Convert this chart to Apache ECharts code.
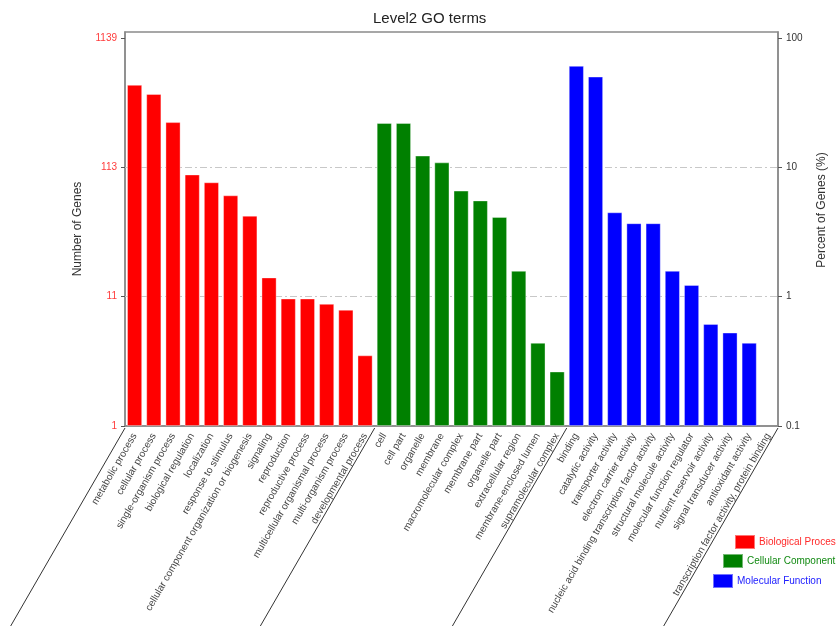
<!DOCTYPE html>
<html>
<head>
<meta charset="utf-8">
<title>Level2 GO terms</title>
<script src="https://cdn.jsdelivr.net/npm/echarts@6/dist/echarts.min.js"></script>
<style>
  html, body { margin: 0; padding: 0; background: #fff; }
  #main { width: 836px; height: 626px; }
</style>
</head>
<body>
<div id="main"></div>
<script>
// GO level 2 annotation, bars = gene counts, axis in percent of all genes
const totalGenes = 1139;

const bpTerms = ['metabolic process', 'cellular process', 'single-organism process', 'biological regulation',
  'localization', 'response to stimulus', 'cellular component organization or biogenesis', 'signaling',
  'reproduction', 'reproductive process', 'multicellular organismal process', 'multi-organism process',
  'developmental process'];
const bpGenes = [493, 419, 254, 100, 87, 69, 48, 16, 11, 11, 10, 9, 4];

const ccTerms = ['cell', 'cell part', 'organelle', 'membrane', 'macromolecular complex', 'membrane part',
  'organelle part', 'extracellular region', 'membrane-enclosed lumen', 'supramolecular complex'];
const ccGenes = [250, 250, 140, 124, 75, 63, 47, 18, 5, 3];

const mfTerms = ['binding', 'catalytic activity', 'transporter activity', 'electron carrier activity',
  'nucleic acid binding transcription factor activity', 'structural molecule activity',
  'molecular function regulator', 'nutrient reservoir activity', 'signal transducer activity',
  'antioxidant activity', 'transcription factor activity, protein binding'];
const mfGenes = [691, 571, 51, 42, 42, 18, 14, 7, 6, 5, 1];

const percentTicks = [0.1, 1, 10, 100];

const categories = bpTerms.concat(ccTerms, mfTerms);

// put one group's values in its own slots, '-' elsewhere
function groupData(offset, genes) {
  const arr = categories.map(() => '-');
  genes.forEach((g, i) => { arr[offset + i] = g / totalGenes * 100; });
  return arr;
}

const groups = [
  { name: 'Biological Process', color: '#ff0000', data: groupData(0, bpGenes) },
  { name: 'Cellular Component', color: '#008000', data: groupData(bpTerms.length, ccGenes) },
  { name: 'Molecular Function', color: '#0000ff', data: groupData(bpTerms.length + ccTerms.length, mfGenes) }
];

const legendPos = [[734, 534, '#ff2a2a'], [722, 553, '#128a12'], [712, 573, '#2020ff']];

const option = {
  animation: false,
  textStyle: { fontFamily: 'Liberation Sans, Arial, sans-serif' },
  title: {
    text: 'Level2 GO terms',
    left: 373,
    top: 11,
    padding: 0,
    textStyle: { fontSize: 15, fontWeight: 'normal', color: '#222' }
  },
  grid: {
    left: 125, right: 57, top: 32, bottom: 200,
    show: true, borderColor: '#8a8a8a', borderWidth: 1.5
  },
  legend: groups.map((g, i) => ({
    data: [g.name],
    left: legendPos[i][0],
    top: legendPos[i][1],
    width: 200,
    padding: 0,
    itemWidth: 20,
    itemHeight: 14,
    icon: 'rect',
    selectedMode: false,
    textStyle: { color: legendPos[i][2], fontSize: 10, padding: [0, 0, 0, -1] }
  })),
  xAxis: {
    type: 'category',
    data: categories,
    axisLine: { lineStyle: { color: '#8a8a8a', width: 1.5 } },
    axisTick: { alignWithLabel: true, length: 4, lineStyle: { color: '#666' } },
    axisLabel: { rotate: 60, interval: 0, fontSize: 10, color: '#444', margin: 8 }
  },
  yAxis: [
    {
      type: 'log',
      logBase: 10,
      min: 0.1,
      max: 111,
      startValue: 0.1,
      position: 'left',
      name: 'Number of Genes',
      nameLocation: 'middle',
      nameRotate: 90,
      nameGap: 41,
      nameTextStyle: { fontSize: 12, color: '#333' },
      axisLine: { show: true, lineStyle: { color: '#8a8a8a', width: 1.5 } },
      axisTick: { show: true, length: 4, lineStyle: { color: '#555' }, customValues: percentTicks },
      axisLabel: {
        fontSize: 10, color: '#ff3a3a', customValues: percentTicks,
        formatter: v => String(Math.floor(v * totalGenes / 100 + 1e-9))
      },
      splitLine: { show: false }
    },
    {
      type: 'log',
      logBase: 10,
      min: 0.1,
      max: 111,
      position: 'right',
      name: 'Percent of Genes (%)',
      nameLocation: 'middle',
      nameRotate: 90,
      nameGap: 38,
      nameTextStyle: { fontSize: 12, color: '#333', padding: [0, 0, 0, 38] },
      axisLine: { show: true, lineStyle: { color: '#8a8a8a', width: 1.5 } },
      axisTick: { show: true, length: 4, lineStyle: { color: '#555' }, customValues: percentTicks },
      axisLabel: { fontSize: 10, color: '#333', customValues: percentTicks },
      splitLine: { show: false }
    }
  ],
  series: groups.map((g, i) => ({
    name: g.name,
    type: 'bar',
    data: g.data,
    barGap: '-100%',
    barCategoryGap: '22%',
    itemStyle: { color: g.color, borderColor: 'rgba(255,255,255,0.45)', borderWidth: 0.8 },
    markLine: i === 0 ? {
      silent: true,
      symbol: 'none',
      z: 1,
      label: { show: false },
      lineStyle: { color: '#c8c8c8', type: [7, 3, 2, 3], width: 1 },
      data: [{ yAxis: 1 }, { yAxis: 10 }]
    } : undefined
  }))
};

const myChart = echarts.init(document.getElementById('main'));
myChart.setOption(option);

// slanted separators between the three GO groups, at category boundaries
const c0 = myChart.convertToPixel({ xAxisIndex: 0 }, 0);
const c1 = myChart.convertToPixel({ xAxisIndex: 0 }, 1);
const step = c1 - c0;
const yBase = myChart.convertToPixel({ yAxisIndex: 0 }, 0.1);
const bounds = [0, bpTerms.length, bpTerms.length + ccTerms.length, categories.length];
const len = 260;
myChart.setOption({
  graphic: bounds.map(b => {
    const x = c0 + (b - 0.5) * step;
    return {
      type: 'line',
      silent: true,
      shape: { x1: x, y1: yBase + 2, x2: x - len * Math.cos(Math.PI / 3), y2: yBase + 2 + len * Math.sin(Math.PI / 3) },
      style: { stroke: '#333', lineWidth: 1 }
    };
  })
});
</script>
</body>
</html>
